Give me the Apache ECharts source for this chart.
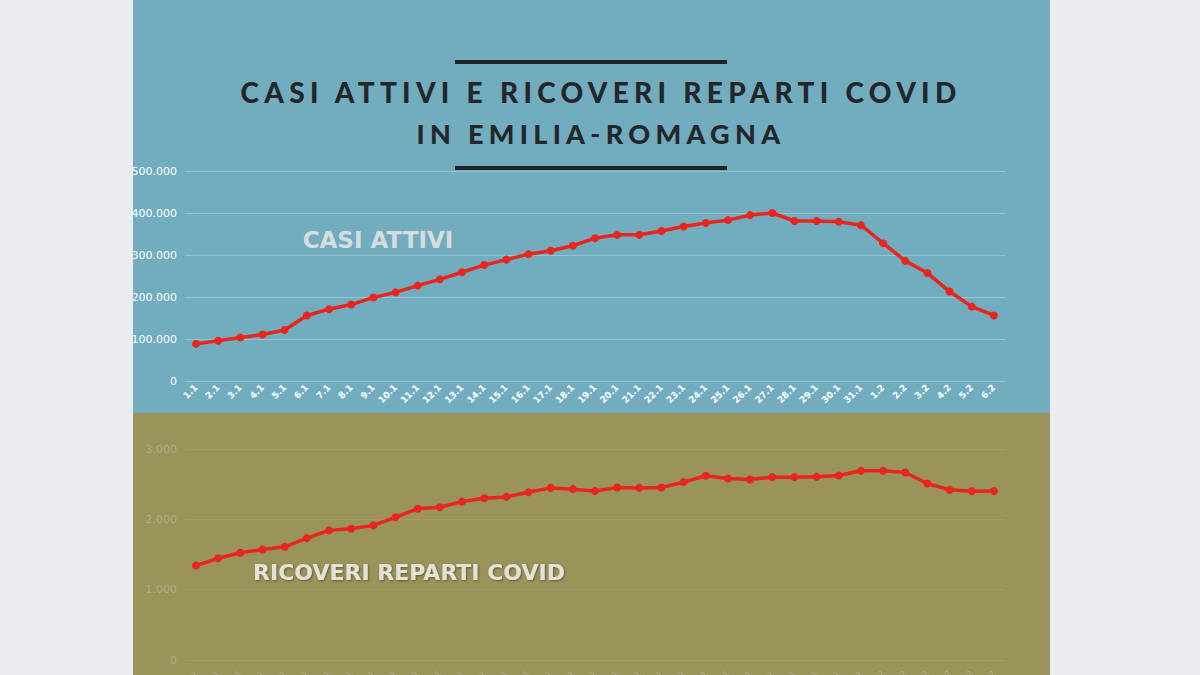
<!DOCTYPE html>
<html>
<head>
<meta charset="utf-8">
<script src="https://cdn.jsdelivr.net/npm/echarts@6/dist/echarts.min.js"></script>
<style>
  html, body { margin: 0; padding: 0; background: #ebecef; }
  #chart { width: 1200px; height: 675px; }
  /* the title font is only used by the title, so it gets the wide tracking */
  #chart text[style*="Lato"] { letter-spacing: 5.3px; }
</style>
</head>
<body>
<div id="chart"></div>
<script>
var giorni = ['1.1', '2.1', '3.1', '4.1', '5.1', '6.1', '7.1', '8.1', '9.1', '10.1',
  '11.1', '12.1', '13.1', '14.1', '15.1', '16.1', '17.1', '18.1', '19.1', '20.1',
  '21.1', '22.1', '23.1', '24.1', '25.1', '26.1', '27.1', '28.1', '29.1', '30.1',
  '31.1', '1.2', '2.2', '3.2', '4.2', '5.2', '6.2'];

var casiAttivi = [88400, 96000, 103500, 110600, 121600, 156000, 171000, 182000, 199000, 211000,
  227000, 242000, 259000, 276000, 289000, 302000, 310000, 322000, 340000, 348000,
  348000, 357000, 368000, 376000, 383000, 395000, 400000, 381000, 381000, 379000,
  371000, 328000, 286000, 257000, 213000, 177000, 156000];

var ricoveri = [1343, 1447, 1524, 1571, 1609, 1733, 1843, 1866, 1914, 2029,
  2151, 2171, 2252, 2300, 2319, 2386, 2447, 2429, 2404, 2452,
  2447, 2452, 2529, 2619, 2580, 2566, 2600, 2600, 2604, 2623,
  2690, 2690, 2666, 2509, 2419, 2400, 2404];

var titolo = ['CASI ATTIVI E RICOVERI REPARTI COVID', 'IN EMILIA-ROMAGNA'];

function migliaia(v) {
  return String(v).replace(/\B(?=(\d{3})+(?!\d))/g, '.');
}

var chart = echarts.init(document.getElementById('chart'), null, { renderer: 'svg' });

var option = {
  animation: false,
  backgroundColor: '#ebecef',
  textStyle: { fontFamily: 'DejaVu Sans' },
  graphic: [
    { type: 'rect', z: -10, shape: { x: 133, y: 0, width: 917, height: 413 }, style: { fill: '#72adbf' } },
    { type: 'rect', z: -10, shape: { x: 133, y: 413, width: 917, height: 262 }, style: { fill: '#9a945a' } },
    { type: 'rect', z: 5, shape: { x: 455, y: 60, width: 272, height: 4 }, style: { fill: '#202426' } },
    { type: 'rect', z: 5, shape: { x: 455, y: 166, width: 272, height: 4 }, style: { fill: '#202426' } },
    {
      type: 'text', z: 5, x: 601, y: 92,
      style: { text: titolo[0], fill: '#23272a', font: '900 28px Lato', align: 'center', verticalAlign: 'middle' }
    },
    {
      type: 'text', z: 5, x: 601, y: 133,
      style: { text: titolo[1], fill: '#23272a', font: '900 27px Lato', align: 'center', verticalAlign: 'middle' }
    },
    {
      type: 'text', z: 5, x: 378, y: 240,
      style: { text: 'CASI ATTIVI', fill: '#d8dcdf', font: 'bold 23px "DejaVu Sans"', align: 'center', verticalAlign: 'middle' }
    },
    {
      type: 'text', z: 5, x: 409, y: 572,
      style: {
        text: 'RICOVERI REPARTI COVID', fill: '#e4e1d6', font: 'bold 22px "DejaVu Sans"',
        align: 'center', verticalAlign: 'middle',
        textShadowColor: 'rgba(60,55,30,0.6)', textShadowBlur: 2, textShadowOffsetX: 1, textShadowOffsetY: 1
      }
    }
  ],
  grid: [
    { left: 185, right: 195, top: 171, height: 210, outerBoundsMode: 'none' },
    { left: 185, right: 195, top: 449, height: 211, outerBoundsMode: 'none' }
  ],
  xAxis: [
    {
      gridIndex: 0, type: 'category', data: giorni, boundaryGap: true,
      axisLine: { show: false }, axisTick: { show: false },
      axisLabel: { color: '#ffffff', fontSize: 9, fontWeight: 'bold', rotate: 45, margin: 5, interval: 0 }
    },
    {
      gridIndex: 1, type: 'category', data: giorni, boundaryGap: true,
      axisLine: { show: false }, axisTick: { show: false },
      axisLabel: { color: '#b4af86', fontSize: 9, rotate: 45, margin: 12, interval: 0 }
    }
  ],
  yAxis: [
    {
      gridIndex: 0, type: 'value', min: 0, max: 500000, interval: 100000,
      axisLine: { show: false }, axisTick: { show: false },
      axisLabel: { color: '#ffffff', fontSize: 11, margin: 8, formatter: migliaia },
      splitLine: { lineStyle: { color: '#93c4d2', width: 1 } }
    },
    {
      gridIndex: 1, type: 'value', min: 0, max: 3000, interval: 1000,
      axisLine: { show: false }, axisTick: { show: false },
      axisLabel: { color: '#b1ac84', fontSize: 11, margin: 8, formatter: migliaia },
      splitLine: { lineStyle: { color: '#a39e68', width: 1 } }
    }
  ],
  series: [
    {
      name: 'Casi attivi', type: 'line', xAxisIndex: 0, yAxisIndex: 0, data: casiAttivi,
      symbol: 'circle', symbolSize: 8,
      lineStyle: { color: '#e8261e', width: 3.5 },
      itemStyle: { color: '#e8261e' }
    },
    {
      name: 'Ricoveri reparti Covid', type: 'line', xAxisIndex: 1, yAxisIndex: 1, data: ricoveri,
      symbol: 'circle', symbolSize: 8,
      lineStyle: { color: '#e8261e', width: 3.5 },
      itemStyle: { color: '#e8261e' }
    }
  ]
};

chart.setOption(option);
</script>
</body>
</html>
